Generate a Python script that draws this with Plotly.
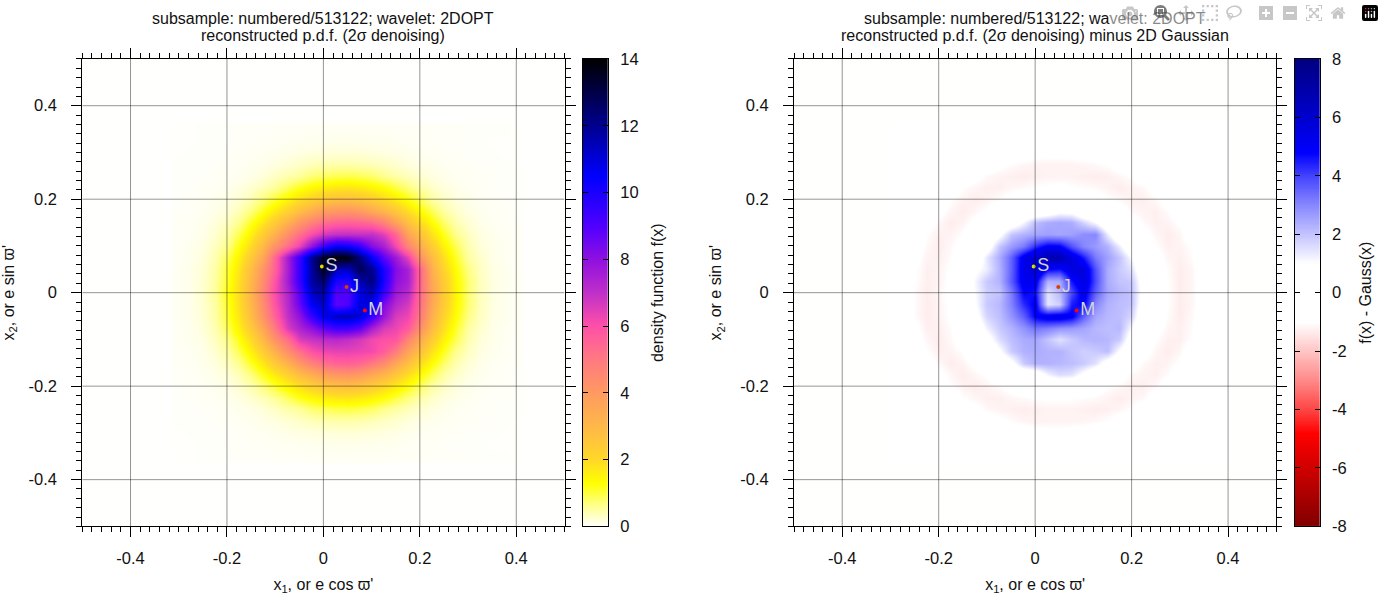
import plotly.graph_objects as go

W, H = 1384, 603
FONT = "Liberation Sans"

xs = [-0.3, -0.275, -0.25, -0.225, -0.2, -0.175, -0.15, -0.125, -0.1, -0.075, -0.05, -0.025, 0, 0.025, 0.05,
      0.075, 0.1, 0.125, 0.15, 0.175, 0.2, 0.225, 0.25, 0.275, 0.3, 0.325, 0.35, 0.375, 0.4]
ys = [0.35, 0.325, 0.3, 0.275, 0.25, 0.225, 0.2, 0.175, 0.15, 0.125, 0.1, 0.075, 0.05, 0.025, 0,
      -0.025, -0.05, -0.075, -0.1, -0.125, -0.15, -0.175, -0.2, -0.225, -0.25, -0.275, -0.3, -0.325, -0.35]

density = [
 [.02,.02,.03,.03,.03,.04,.04,.04,.05,.05,.05,.06,.06,.06,.06,.06,.06,.06,.05,.05,.05,.04,.04,.04,.03,.03,.03,.03,.02],
 [.02,.02,.03,.03,.03,.04,.05,.05,.06,.07,.08,.09,.10,.11,.11,.10,.10,.09,.08,.06,.05,.05,.04,.03,.03,.03,.02,.02,.02],
 [.02,.03,.03,.03,.04,.05,.06,.07,.09,.12,.15,.17,.19,.20,.21,.20,.18,.16,.13,.10,.08,.06,.05,.05,.03,.03,.03,.02,.02],
 [.03,.03,.03,.04,.05,.06,.08,.12,.16,.23,.30,.37,.42,.45,.45,.43,.38,.32,.26,.18,.13,.10,.07,.06,.05,.04,.03,.03,.02],
 [.03,.03,.04,.05,.06,.09,.13,.20,.32,.45,.55,.75,.85,.92,.95,.90,.80,.62,.48,.37,.26,.17,.11,.07,.06,.05,.04,.03,.03],
 [.03,.04,.05,.06,.09,.15,.25,.38,.55,.85,1.15,1.37,1.55,1.67,1.7,1.62,1.45,1.25,.97,.70,.47,.30,.18,.12,.07,.05,.04,.03,.03],
 [.03,.05,.06,.09,.14,.25,.42,.70,1.05,1.45,1.85,2.2,2.5,2.7,2.75,2.6,2.35,2.0,1.62,1.22,.85,.50,.32,.18,.11,.07,.05,.04,.03],
 [.04,.05,.07,.12,.21,.40,.70,1.15,1.67,2.2,2.85,3.35,3.85,4.1,4.2,4.0,3.55,3.1,2.5,1.9,1.37,.90,.50,.30,.16,.10,.06,.05,.03],
 [.05,.06,.10,.18,.34,.60,1.1,1.7,2.4,3.2,4.1,4.75,5.25,5.55,5.6,5.5,5.3,4.7,3.7,2.75,1.95,1.33,.80,.43,.24,.12,.07,.05,.04],
 [.05,.07,.12,.25,.47,.92,1.52,2.3,3.25,4.35,5.25,6.1,6.7,6.95,7.0,6.95,7.0,6.5,5.5,3.7,2.75,1.8,1.15,.62,.35,.17,.10,.06,.04],
 [.06,.09,.16,.34,.62,1.22,1.95,2.95,4.25,5.3,6.4,8.0,9.5,10.5,10.3,9.5,8.2,7.5,6.2,4.7,3.45,2.35,1.5,.90,.45,.21,.12,.07,.05],
 [.06,.10,.20,.42,.85,1.52,2.4,3.55,5.5,7.6,9.5,12.0,13.5,14.0,13.8,12.3,10.5,8.8,7.7,6.4,4.3,2.9,1.85,1.1,.52,.28,.13,.07,.05],
 [.07,.12,.24,.47,1.0,1.73,2.8,4.2,5.6,7.5,9.5,11.8,13.6,11.5,11.3,12.8,12.0,10.0,8.2,7.5,5.5,3.3,2.1,1.3,.68,.34,.16,.09,.06],
 [.07,.12,.25,.50,1.05,1.85,3.0,4.4,5.9,7.6,9.5,11.8,12.5,10.0,9.8,11.5,12.3,10.0,8.0,7.5,5.5,3.55,2.35,1.43,.78,.37,.17,.09,.06],
 [.07,.12,.28,.55,1.15,1.9,3.1,4.6,6.1,7.3,9.0,11.3,11.8,9.0,9.0,10.8,11.5,9.5,7.7,7.2,5.4,3.7,2.4,1.45,.78,.37,.17,.09,.06],
 [.07,.12,.25,.50,1.05,1.85,3.0,4.4,5.9,7.2,8.7,10.6,11.3,8.8,9.0,11.0,10.8,8.3,7.2,6.7,5.3,3.55,2.35,1.43,.78,.37,.17,.09,.06],
 [.07,.12,.24,.47,1.0,1.73,2.8,4.2,5.6,7.0,8.0,9.5,10.8,11.3,11.5,11.0,9.5,7.8,6.6,6.3,5.0,3.3,2.1,1.3,.68,.34,.16,.09,.06],
 [.06,.10,.20,.42,.85,1.52,2.4,3.55,5.0,6.6,7.4,8.0,8.8,9.3,9.3,8.8,7.5,6.6,6.3,5.8,4.4,2.9,1.85,1.1,.52,.28,.13,.07,.05],
 [.06,.09,.16,.34,.62,1.22,1.95,2.95,4.25,5.3,6.6,6.9,7.1,7.2,7.0,6.7,6.2,6.0,5.9,4.7,3.45,2.35,1.5,.90,.45,.21,.12,.07,.05],
 [.05,.07,.12,.25,.47,.92,1.52,2.3,3.25,4.35,5.25,6.0,6.3,6.4,6.4,6.3,6.2,5.7,4.9,3.7,2.75,1.8,1.15,.62,.35,.17,.10,.06,.04],
 [.05,.06,.10,.18,.34,.60,1.1,1.7,2.4,3.2,4.1,4.75,5.25,5.55,5.6,5.45,5.0,4.45,3.55,2.75,1.95,1.33,.80,.43,.24,.12,.07,.05,.04],
 [.04,.05,.07,.12,.21,.40,.70,1.15,1.67,2.2,2.85,3.35,3.85,4.1,4.2,4.0,3.55,3.1,2.5,1.9,1.37,.90,.50,.30,.16,.10,.06,.05,.03],
 [.03,.05,.06,.09,.14,.25,.42,.70,1.05,1.45,1.85,2.2,2.5,2.7,2.75,2.6,2.35,2.0,1.62,1.22,.85,.50,.32,.18,.11,.07,.05,.04,.03],
 [.03,.04,.05,.06,.09,.15,.25,.38,.55,.85,1.15,1.37,1.55,1.67,1.7,1.62,1.45,1.25,.97,.70,.47,.30,.18,.12,.07,.05,.04,.03,.03],
 [.03,.03,.04,.05,.06,.09,.13,.20,.32,.45,.55,.75,.85,.92,.95,.90,.80,.62,.48,.37,.26,.17,.11,.07,.06,.05,.04,.03,.03],
 [.03,.03,.03,.04,.05,.06,.08,.12,.16,.23,.30,.37,.42,.45,.45,.43,.38,.32,.26,.18,.13,.10,.07,.06,.05,.04,.03,.03,.02],
 [.02,.03,.03,.03,.04,.05,.06,.07,.09,.12,.15,.17,.19,.20,.21,.20,.18,.16,.13,.10,.08,.06,.05,.05,.03,.03,.03,.02,.02],
 [.02,.02,.03,.03,.03,.04,.05,.05,.06,.07,.08,.09,.10,.11,.11,.10,.10,.09,.08,.06,.05,.05,.04,.03,.03,.03,.02,.02,.02],
 [.02,.02,.03,.03,.03,.04,.04,.04,.05,.05,.05,.06,.06,.06,.06,.06,.06,.06,.05,.05,.05,.04,.04,.04,.03,.03,.03,.03,.02],
]

residual = [
 [0]*29,
 [0,0,0,0,0,0,0,0,0,0,-.05,-.15,-.2,-.2,-.2,-.2,-.2,-.15,-.05,0,0,0,0,0,0,0,0,0,0],
 [0,0,0,0,0,0,0,0,-.1,-.3,-.5,-.65,-.8,-.85,-.85,-.8,-.75,-.55,-.4,-.1,0,0,0,0,0,0,0,0,0],
 [0,0,0,0,0,0,0,-.3,-.6,-.9,-1.05,-1.15,-1.2,-1.2,-1.2,-1.2,-1.15,-1.1,-1.0,-.75,-.45,-.1,0,0,0,0,0,0,0],
 [0,0,0,0,0,-.1,-.45,-.85,-1.1,-1.2,-1.25,-1.3,-1.25,-1.2,-1.2,-1.2,-1.25,-1.3,-1.25,-1.15,-1.0,-.6,-.2,0,0,0,0,0,0],
 [0,0,0,0,-.1,-.5,-1.0,-1.15,-1.25,-1.25,-1.15,-1.1,-1.0,-.95,-.9,-1.0,-1.05,-1.1,-1.2,-1.3,-1.2,-1.1,-.7,-.3,0,0,0,0,0],
 [0,0,0,-.05,-.45,-1.0,-1.2,-1.3,-1.2,-1.05,-.8,-.45,-.2,-.1,-.05,-.15,-.35,-.65,-1.0,-1.1,-1.25,-1.25,-1.1,-.7,-.2,0,0,0,0],
 [0,0,0,-.35,-.85,-1.15,-1.3,-1.15,-.95,-.45,0,0,0,.3,.8,.7,0,0,-.2,-.75,-1.1,-1.2,-1.25,-1.05,-.6,-.1,0,0,0],
 [0,0,-.1,-.7,-1.1,-1.3,-1.2,-.9,-.3,0,.3,1.1,2.1,2.4,2.5,2.4,1.7,1.0,0,-.05,-.7,-1.1,-1.25,-1.2,-.95,-.35,0,0,0],
 [0,0,-.35,-1.0,-1.25,-1.2,-1.0,-.4,0,.8,2.0,2.3,2.5,2.6,2.5,2.6,2.9,3.0,1.3,0,-.05,-.8,-1.15,-1.3,-1.15,-.6,-.1,0,0],
 [0,-.1,-.6,-1.1,-1.3,-1.1,-.8,0,.4,2.0,2.7,3.2,4.3,5.0,4.9,3.8,3.0,2.7,2.3,1.3,0,-.35,-1.0,-1.25,-1.2,-1.0,-.35,0,0],
 [0,-.15,-.8,-1.2,-1.25,-1.05,-.3,0,1.4,2.4,3.6,5.2,6.1,6.8,6.7,5.6,4.5,3.2,2.6,2.0,1.0,0,-.8,-1.15,-1.25,-1.05,-.45,0,0],
 [0,-.3,-.95,-1.25,-1.2,-.95,-.05,.8,1.3,2.3,3.6,5.3,6.0,4.8,4.6,5.6,5.6,3.8,2.4,1.9,1.5,.1,-.5,-1.05,-1.3,-1.15,-.6,-.05,0],
 [0,-.35,-1.0,-1.25,-1.2,-.9,-.1,1.1,1.9,2.3,3.7,5.2,5.1,2.3,2.4,4.6,5.6,3.9,2.4,2.0,1.9,.5,-.4,-1.0,-1.3,-1.15,-.7,-.1,0],
 [0,-.4,-1.05,-1.3,-1.15,-.85,-.05,1.0,1.8,2.0,3.2,4.8,4.6,1.5,2.2,3.9,5.2,3.6,2.5,2.2,2.0,.6,-.35,-1.0,-1.3,-1.15,-.7,-.1,0],
 [0,-.35,-1.05,-1.3,-1.2,-.9,-.1,.9,1.9,2.2,3.1,4.3,5.0,1.4,1.8,4.5,4.9,3.0,2.3,2.1,2.0,.4,-.4,-1.0,-1.3,-1.15,-.7,-.1,0],
 [0,-.3,-1.05,-1.3,-1.2,-.95,-.05,.6,1.7,2.1,2.8,3.6,4.9,5.3,5.4,5.0,3.6,2.5,2.2,2.1,1.7,.1,-.5,-1.05,-1.3,-1.1,-.6,-.05,0],
 [0,-.15,-.85,-1.25,-1.25,-1.05,-.3,.1,1.2,1.9,2.3,2.8,3.3,3.1,2.8,2.7,2.5,2.2,2.1,2.2,1.0,0,-.8,-1.15,-1.25,-1.05,-.45,0,0],
 [0,-.1,-.7,-1.15,-1.3,-1.1,-.7,-.05,.6,1.6,2.1,2.4,2.5,2.0,1.5,1.9,2.2,2.3,2.2,1.9,.4,-.2,-1.0,-1.25,-1.25,-1.0,-.3,0,0],
 [0,0,-.35,-1.0,-1.25,-1.2,-1.0,-.3,0,.9,1.9,2.3,2.4,2.3,2.3,2.0,1.8,1.9,2.1,.9,0,-.75,-1.15,-1.3,-1.15,-.6,-.1,0,0],
 [0,0,-.1,-.7,-1.1,-1.3,-1.2,-.9,-.3,0,.7,1.9,2.3,2.3,2.2,2.1,1.9,1.5,.5,0,-.7,-1.1,-1.25,-1.2,-.95,-.35,0,0,0],
 [0,0,0,-.35,-.85,-1.15,-1.3,-1.15,-.95,-.45,0,0,.3,1.2,1.6,1.5,.8,0,-.2,-.75,-1.1,-1.2,-1.25,-1.05,-.6,-.1,0,0,0],
 [0,0,0,-.05,-.45,-1.0,-1.2,-1.3,-1.2,-1.05,-.8,-.45,-.2,-.1,-.05,-.15,-.35,-.65,-1.0,-1.1,-1.25,-1.25,-1.1,-.7,-.2,0,0,0,0],
 [0,0,0,0,-.1,-.5,-1.0,-1.15,-1.25,-1.25,-1.15,-1.1,-1.0,-1.0,-1.0,-1.0,-1.05,-1.1,-1.2,-1.3,-1.2,-1.1,-.7,-.3,0,0,0,0,0],
 [0,0,0,0,0,-.1,-.45,-.85,-1.1,-1.2,-1.25,-1.3,-1.25,-1.2,-1.2,-1.2,-1.25,-1.3,-1.25,-1.15,-1.0,-.6,-.2,0,0,0,0,0,0],
 [0,0,0,0,0,0,0,-.3,-.6,-.9,-1.05,-1.15,-1.2,-1.2,-1.2,-1.2,-1.15,-1.1,-1.0,-.75,-.45,-.1,0,0,0,0,0,0,0],
 [0,0,0,0,0,0,0,0,-.1,-.3,-.5,-.65,-.8,-.85,-.85,-.8,-.75,-.55,-.4,-.1,0,0,0,0,0,0,0,0,0],
 [0,0,0,0,0,0,0,0,0,0,-.05,-.15,-.2,-.2,-.2,-.2,-.2,-.15,-.05,0,0,0,0,0,0,0,0,0,0],
 [0]*29,
]

for m in (density, residual):
    assert len(m) == len(ys) and all(len(r) == len(xs) for r in m), [len(r) for r in m]

tick_vals = [-0.4, -0.2, 0, 0.2, 0.4]
tick_text = ["-0.4", "-0.2", "0", "0.2", "0.4"]

planet_names = ["S", "J", "M"]
planet_x = [-0.003, 0.048, 0.086]
planet_y = [0.056, 0.012, -0.038]
planet_colors = ["#e6e000", "#d84000", "#ff0000"]

cb1_levels = [0, 0.7, 1.3, 2, 3, 4, 5, 6, 7, 8, 9, 10.5, 12, 14]
cb1_colors = ["#ffffff", "#ffff80", "#ffff00", "#ffd828", "#ffb848", "#ff9a60", "#ff7a80", "#ff50a8",
              "#c030c8", "#9010e0", "#5000ff", "#0000ff", "#000090", "#000000"]
cb1_ticks = [0, 2, 4, 6, 8, 10, 12, 14]
cb2_levels = [-8, -4.8, -4, -3, -2, -1, 1, 2, 3, 4, 4.8, 8]
cb2_colors = ["#800000", "#ff0000", "#ff4444", "#ff8888", "#ffc4c4", "#ffffff", "#ffffff", "#c4c4ff",
              "#8888ff", "#4444ff", "#0000ff", "#000080"]
cb2_ticks = [-8, -6, -4, -2, 0, 2, 4, 6, 8]


def scale(levels, colors):
    lo, hi = levels[0], levels[-1]
    return [[(v - lo) / (hi - lo), c] for v, c in zip(levels, colors)]


def fx(p):
    return p / W


def fy(p):
    return 1 - p / H


TICK = dict(family=FONT, size=16.5, color="#111111")
TITLE = dict(family=FONT, size=16, color="#111111")

fig = go.Figure()
CS1, CS2 = scale(cb1_levels, cb1_colors), scale(cb2_levels, cb2_colors)
panels = [("x", "y", density, CS1, 0, 14), ("x2", "y2", residual, CS2, -8, 8)]
for xa, ya, z, cs, lo, hi in panels:
    fig.add_trace(go.Heatmap(x=xs, y=ys[::-1], z=z[::-1], xaxis=xa, yaxis=ya, colorscale=cs, zmin=lo, zmax=hi,
                             zsmooth="best", showscale=False))
    fig.add_trace(go.Scatter(x=planet_x, y=planet_y, xaxis=xa, yaxis=ya, mode="markers+text", text=planet_names,
                             textposition="middle right", marker=dict(size=4, color=planet_colors),
                             textfont=dict(family=FONT, size=18, color="#d4d4d4"), showlegend=False, cliponaxis=False))
    for v in tick_vals:
        fig.add_shape(type="line", xref=xa, yref=ya, x0=v, x1=v, y0=-0.5, y1=0.5, layer="above",
                      line=dict(color="rgba(0,0,0,0.42)", width=1))
        fig.add_shape(type="line", xref=xa, yref=ya, x0=-0.5, x1=0.5, y0=v, y1=v, layer="above",
                      line=dict(color="rgba(0,0,0,0.42)", width=1))

# colour keys drawn on their own axes so the ticks appear on both edges
for xa, ya, levels_lo, levels_hi, cs in (("x3", "y3", 0, 14, CS1), ("x4", "y4", -8, 8, CS2)):
    n = 281
    col = [levels_lo + (levels_hi - levels_lo) * i / (n - 1) for i in range(n)]
    fig.add_trace(go.Heatmap(x=[0, 1], y=col, z=[[v, v] for v in col], xaxis=xa, yaxis=ya, colorscale=cs,
                             zmin=levels_lo, zmax=levels_hi, zsmooth="best", showscale=False))


def main_x(domain, anchor):
    return dict(domain=domain, anchor=anchor, range=[-0.5, 0.5], tickvals=tick_vals, ticktext=tick_text,
                ticks="outside", ticklen=10, tickwidth=1, tickcolor="black", showgrid=False, zeroline=False,
                showline=True, linecolor="black", linewidth=1, mirror="allticks", tickfont=TICK,
                ticklabelstandoff=7,
                minor=dict(dtick=0.02, tick0=0, ticks="outside", ticklen=5, tickwidth=1, tickcolor="black",
                           showgrid=False),
                title=dict(text="x<sub>1</sub>, or e cos ϖ'", font=TITLE, standoff=12))


def main_y(domain, anchor):
    d = main_x(domain, anchor)
    d["ticklabelstandoff"] = 11
    d["title"] = dict(text="x<sub>2</sub>, or e sin ϖ'", font=TITLE, standoff=14)
    return d


def key_x(domain, anchor):
    return dict(domain=domain, anchor=anchor, range=[0, 1], showticklabels=False, ticks="", showgrid=False,
                zeroline=False, showline=True, linecolor="black", linewidth=1, mirror=True)


def key_y(domain, anchor, lo, hi, ticks, title, standoff):
    return dict(domain=domain, anchor=anchor, side="right", range=[lo, hi], tickvals=ticks,
                ticktext=[str(t) for t in ticks], ticks="inside", ticklen=5, tickwidth=1, tickcolor="black",
                showgrid=False, zeroline=False, showline=True, linecolor="black", linewidth=1, mirror="allticks",
                tickfont=TICK, ticklabelstandoff=8, title=dict(text=title, font=TITLE, standoff=standoff))


dy = [fy(533.3), fy(51.5)]
fig.update_layout(
    width=W, height=H, margin=dict(l=0, r=0, t=0, b=0), autosize=False, showlegend=False,
    paper_bgcolor="white", plot_bgcolor="#fffffd",
    font=dict(family=FONT, color="#111111"),
    xaxis=main_x([fx(82.3), fx(564.5)], "y"), yaxis=main_y(dy, "x"),
    xaxis2=main_x([fx(794), fx(1276.3)], "y2"), yaxis2=main_y(dy, "x2"),
    xaxis3=key_x([fx(582.7), fx(608)], "y3"),
    yaxis3=key_y(dy, "x3", 0, 14, cb1_ticks, "density function f(x)", 14),
    xaxis4=key_x([fx(1295), fx(1319.7)], "y4"),
    yaxis4=key_y(dy, "x4", -8, 8, cb2_ticks, "f(x) - Gauss(x)", 14),
    annotations=[
        dict(text=t, x=fx(px), y=fy(py), xref="paper", yref="paper", xanchor="center", yanchor="middle",
             showarrow=False, font=TITLE)
        for t, px, py in [
            ("subsample: numbered/513122; wavelet: 2DOPT", 322.5, 9.5),
            ("reconstructed p.d.f. (2σ denoising)", 322.5, 27.5),
            ("subsample: numbered/513122; wavelet: 2DOPT", 1035, 9.5),
            ("reconstructed p.d.f. (2σ denoising) minus 2D Gaussian", 1035, 27.5),
        ]
    ],
)
fig.layout.plot_bgcolor = "#fffffd"

fig.write_html("out.html", post_script="document.body.style.margin='0';")
